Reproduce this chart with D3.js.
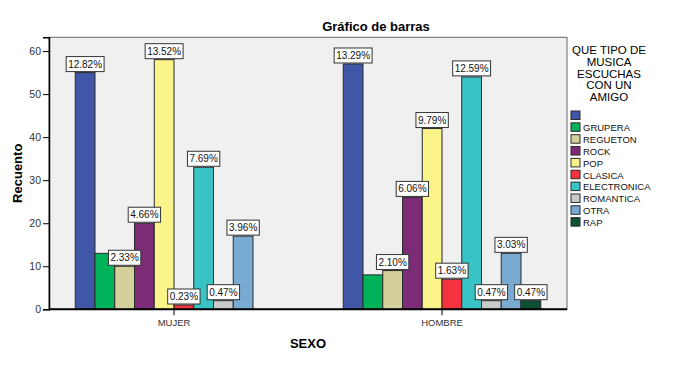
<!doctype html>
<html lang="es">
<head>
<meta charset="utf-8">
<title>Gráfico de barras</title>
<script src="https://cdn.jsdelivr.net/npm/d3@7"></script>
<style>
  body { margin: 0; background: #fff; }
  svg { font-family: "Liberation Sans", Arial, sans-serif; }
</style>
</head>
<body>
<svg></svg>
<script>
    var width = 681;
    var height = 366;

    // categorias del eje x
    var sexo = ["MUJER", "HOMBRE"];
    // tipos de musica (el primero viene vacio en el original)
    var tipos = ["", "GRUPERA", "REGUETON", "ROCK", "POP", "CLASICA", "ELECTRONICA", "ROMANTICA", "OTRA", "RAP"];
    var colores = ["#3f57a6", "#00b35a", "#d4d09c", "#7c2b77", "#faf48a", "#f5333f", "#38c4c4", "#cacaca", "#79aad2", "#0b5233"];

    // recuentos
    var mujer = [55, 13, 10, 20, 58, 1, 33, 2, 17, 0];
    var hombre = [57, 8, 9, 26, 42, 7, 54, 2, 13, 2];
    // etiquetas de porcentaje ("" = sin etiqueta)
    var pctMujer = ["12.82%", "", "2.33%", "4.66%", "13.52%", "0.23%", "7.69%", "0.47%", "3.96%", ""];
    var pctHombre = ["13.29%", "", "2.10%", "6.06%", "9.79%", "1.63%", "12.59%", "0.47%", "3.03%", "0.47%"];

    var yTicks = [0, 10, 20, 30, 40, 50, 60];
    var tituloLeyenda = ["QUE TIPO DE", "MUSICA", "ESCUCHAS", "CON UN", "AMIGO"];

    var plot = { left: 49, right: 567, top: 37.3, bottom: 309.3 };

    var svg = d3.select("svg").attr("width", width).attr("height", height);

    var xScale = d3.scaleBand().domain(sexo).range([40, 576]);
    var inner = d3.scaleBand().domain(d3.range(tipos.length)).range([-98.75, 98.75]);
    var yScale = d3.scaleLinear().domain([0, 63.2]).range([plot.bottom, plot.top]);

    // fondo del area de grafico
    svg.append("rect")
        .attr("x", plot.left).attr("y", plot.top)
        .attr("width", plot.right - plot.left).attr("height", plot.bottom - plot.top)
        .attr("fill", "#f0f0f0")
        .attr("stroke", "#666").attr("stroke-width", 1);

    var rows = [];
    sexo.forEach(function (s, si) {
        var vals = si == 0 ? mujer : hombre;
        var pcts = si == 0 ? pctMujer : pctHombre;
        vals.forEach(function (v, i) {
            rows.push({ sexo: s, i: i, value: v, pct: pcts[i] });
        });
    });

    var cx = function (d) { return xScale(d.sexo) + xScale.bandwidth() / 2; };

    svg.selectAll("rect.bar")
        .data(rows.filter(function (d) { return d.value > 0; }))
        .enter()
        .append("rect")
        .attr("class", "bar")
        .attr("x", function (d) { return cx(d) + inner(d.i); })
        .attr("y", function (d) { return yScale(d.value); })
        .attr("width", inner.bandwidth())
        .attr("height", function (d) { return yScale(0) - yScale(d.value); })
        .attr("fill", function (d) { return colores[d.i]; })
        .attr("stroke", "#2a2a2a")
        .attr("stroke-width", 1);

    // ejes
    var yAxis = d3.axisLeft(yScale).tickValues(yTicks).tickSize(6).tickPadding(2);
    var gy = svg.append("g").attr("transform", "translate(" + plot.left + ",0)").call(yAxis);
    gy.select(".domain").attr("stroke", "#000").attr("stroke-width", 1.5);
    gy.selectAll(".tick line").attr("stroke", "#000");
    gy.selectAll("text").attr("font-size", "10.5px").attr("fill", "#333").attr("font-family", "Liberation Sans, Arial, sans-serif");

    var xAxis = d3.axisBottom(xScale).tickSize(6).tickPadding(4);
    var gx = svg.append("g").attr("transform", "translate(0," + plot.bottom + ")").call(xAxis);
    gx.select(".domain").remove();
    gx.append("line").attr("x1", plot.left).attr("x2", plot.right)
        .attr("stroke", "#000").attr("stroke-width", 2);
    gx.selectAll(".tick line").attr("stroke", "#000");
    gx.selectAll("text").attr("font-size", "9.5px").attr("fill", "#333").attr("font-family", "Liberation Sans, Arial, sans-serif");

    // etiquetas de porcentaje
    var lab = svg.selectAll("g.lab")
        .data(rows.filter(function (d) { return d.pct != ""; }))
        .enter()
        .append("g")
        .attr("class", "lab");

    lab.append("rect");
    lab.append("text")
        .text(function (d) { return d.pct; })
        .attr("x", function (d) { return cx(d) + inner(d.i) + inner.bandwidth() / 2; })
        .attr("y", function (d) { return yScale(d.value) - 5; })
        .attr("text-anchor", "middle")
        .attr("font-size", "10px")
        .attr("fill", "#111");
    lab.each(function (d) {
        var t = d3.select(this).select("text");
        var w = t.node().getComputedTextLength() + 4;
        d3.select(this).select("rect")
            .attr("x", cx(d) + inner(d.i) + inner.bandwidth() / 2 - w / 2)
            .attr("y", yScale(d.value) - 16)
            .attr("width", w)
            .attr("height", 15)
            .attr("fill", "#fff")
            .attr("stroke", "#333")
            .attr("stroke-width", 1);
    });

    // titulos
    svg.append("text").text("Gráfico de barras")
        .attr("x", 376).attr("y", 31)
        .attr("text-anchor", "middle").attr("font-weight", "bold").attr("font-size", "13px");

    svg.append("text").text("SEXO")
        .attr("x", (plot.left + plot.right) / 2).attr("y", 348)
        .attr("text-anchor", "middle").attr("font-weight", "bold").attr("font-size", "13px");

    svg.append("text").text("Recuento")
        .attr("transform", "translate(22," + (plot.top + plot.bottom) / 2 + ") rotate(-90)")
        .attr("text-anchor", "middle").attr("font-weight", "bold").attr("font-size", "13px");

    // leyenda
    var leg = svg.append("g");
    leg.selectAll("text.lt")
        .data(tituloLeyenda)
        .enter()
        .append("text")
        .attr("class", "lt")
        .text(function (d) { return d; })
        .attr("x", 609)
        .attr("y", function (d, i) { return 54 + i * 11.8; })
        .attr("text-anchor", "middle")
        .attr("font-size", "11.5px");

    var item = leg.selectAll("g.it")
        .data(tipos)
        .enter()
        .append("g")
        .attr("class", "it")
        .attr("transform", function (d, i) { return "translate(571," + (111 + i * 11.85) + ")"; });
    item.append("rect")
        .attr("width", 9).attr("height", 8.5)
        .attr("fill", function (d, i) { return colores[i]; })
        .attr("stroke", "#2a2a2a").attr("stroke-width", 1);
    item.append("text")
        .text(function (d) { return d; })
        .attr("x", 12).attr("y", 8.3)
        .attr("font-size", "9.5px")
        .attr("fill", "#111");
</script>
</body>
</html>
